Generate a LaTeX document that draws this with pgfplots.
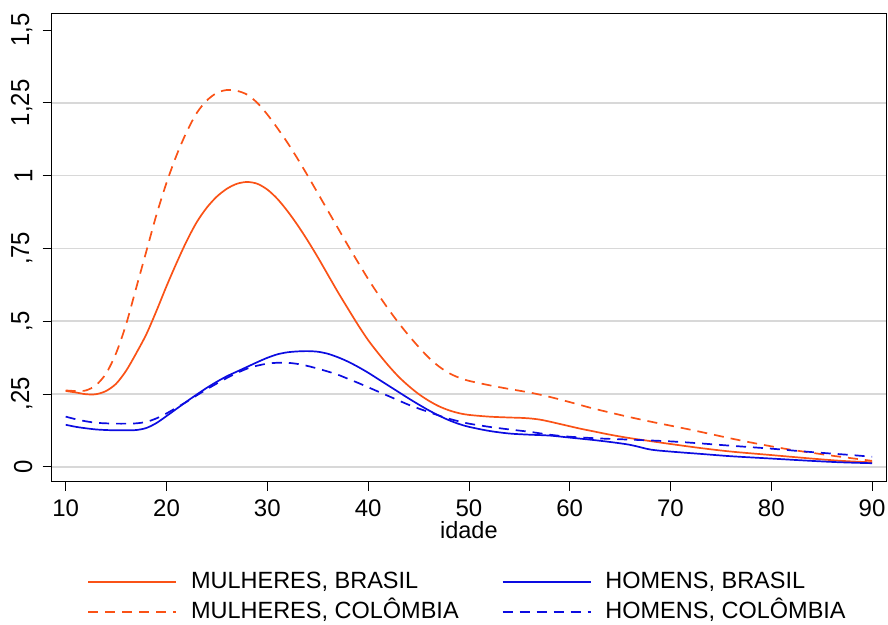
\documentclass[border=0pt]{standalone}
\usepackage{fontspec}
\setmainfont{Liberation Sans}
\newfontfamily\ylabfont[FakeStretch=0.92]{Liberation Sans}
\usepackage{pgfplots}
\pgfplotsset{compat=1.18}
\definecolor{colF}{RGB}{250,82,22}
\definecolor{colM}{RGB}{12,12,225}
\definecolor{gridc}{RGB}{216,216,216}
\newcommand{\onefive}{1,5}

\pgfplotstableread{
x y
10 0.260
11 0.255
12 0.249
13 0.249
14 0.260
15 0.285
16 0.330
17 0.390
18 0.455
19 0.535
20 0.620
21 0.700
22 0.775
23 0.840
24 0.890
25 0.928
26 0.955
27 0.972
28 0.978
29 0.972
30 0.952
31 0.920
32 0.878
33 0.830
34 0.777
35 0.720
36 0.660
37 0.600
38 0.543
39 0.487
40 0.435
41 0.390
42 0.348
43 0.310
44 0.278
45 0.250
46 0.227
47 0.208
48 0.194
49 0.184
50 0.178
52 0.172
54 0.169
55 0.168
56 0.166
57 0.162
58 0.155
59 0.147
60 0.139
61 0.131
62 0.124
64 0.110
66 0.098
68 0.088
70 0.078
73 0.064
76 0.052
80 0.040
84 0.028
87 0.020
90 0.015
}\mulbr

\pgfplotstableread{
x y
10 0.262
11 0.260
12 0.262
13 0.280
14 0.320
15 0.390
16 0.490
17 0.615
18 0.740
19 0.865
20 0.975
21 1.070
22 1.150
23 1.215
24 1.258
25 1.284
26 1.294
27 1.291
28 1.278
29 1.250
30 1.210
31 1.163
32 1.113
33 1.058
34 1.000
35 0.940
36 0.880
37 0.820
38 0.760
39 0.702
40 0.645
41 0.592
42 0.542
43 0.495
44 0.452
45 0.412
46 0.375
47 0.345
48 0.322
49 0.306
50 0.295
52 0.280
54 0.267
56 0.255
58 0.240
60 0.222
62 0.203
64 0.186
66 0.170
68 0.155
70 0.141
72 0.127
74 0.112
76 0.097
78 0.083
80 0.070
82 0.058
84 0.048
86 0.038
88 0.029
90 0.020
}\mulco

\pgfplotstableread{
x y
10 0.144
11 0.137
12 0.132
13 0.128
14 0.126
15 0.125
16 0.125
17 0.126
18 0.133
19 0.150
20 0.174
21 0.199
22 0.224
23 0.248
24 0.271
25 0.292
26 0.311
27 0.327
28 0.343
29 0.359
30 0.374
31 0.386
32 0.393
33 0.396
34 0.397
35 0.395
36 0.388
37 0.376
38 0.361
39 0.343
40 0.323
41 0.301
42 0.279
43 0.257
44 0.235
45 0.214
46 0.194
47 0.176
48 0.160
49 0.147
50 0.137
52 0.123
54 0.114
56 0.110
58 0.107
60 0.100
62 0.093
64 0.085
66 0.075
68 0.059
70 0.052
73 0.044
76 0.036
80 0.028
84 0.020
87 0.015
90 0.012
}\hombr

\pgfplotstableread{
x y
10 0.172
11 0.163
12 0.156
13 0.151
14 0.149
15 0.148
16 0.148
17 0.149
18 0.154
19 0.166
20 0.183
21 0.203
22 0.223
23 0.245
24 0.266
25 0.286
26 0.305
27 0.322
28 0.337
29 0.347
30 0.354
31 0.357
32 0.357
33 0.353
34 0.346
35 0.337
36 0.327
37 0.316
38 0.302
39 0.288
40 0.273
41 0.258
42 0.243
43 0.228
44 0.213
45 0.200
46 0.188
47 0.176
48 0.165
49 0.156
50 0.148
52 0.137
54 0.128
56 0.120
58 0.110
60 0.103
63 0.097
66 0.093
70 0.087
73 0.080
76 0.072
80 0.062
83 0.053
86 0.045
88 0.040
90 0.034
}\homco

\begin{document}
\begin{tikzpicture}
\path[use as bounding box] (-51.7bp,-143.3bp) rectangle (836.3bp,481.7bp);
\begin{axis}[
  at={(0,0)}, anchor=south west,
  scale only axis, width=834.3bp, height=467.7bp,
  xmin=8.61, xmax=91.38, ymin=-0.0515, ymax=1.555,
  tick pos=left, tick align=outside,
  major tick length=9bp,
  tick style={black, line width=0.8bp},
  axis line style={black, line width=1bp},
  xtick={10,20,30,40,50,60,70,80,90},
  xticklabels={10,20,30,40,50,60,70,80,90},
  ytick={0,0.25,0.5,0.75,1,1.25},
  yticklabels={0,{,25},{,5},{,75},1,{1,25}},
  extra y ticks={1.5}, extra y tick labels={\onefive},
  extra y tick style={grid=none},
  ymajorgrids,
  grid style={gridc, line width=1.6bp},
  major grid style={gridc, line width=1.6bp},
  xticklabel style={font=\fontsize{24bp}{28bp}\selectfont, inner sep=0pt, anchor=north, yshift=-9bp},
  yticklabel style={font=\fontsize{26bp}{30bp}\ylabfont, xshift=-10bp, rotate=90, inner sep=0pt, anchor=south},
  xlabel={idade},
  xlabel style={font=\fontsize{23.5bp}{28bp}\selectfont, inner sep=0pt, at={(axis description cs:0.5,0)}, anchor=base, yshift=-57bp},
  legend columns=2,
  legend cell align=left,
  legend image code/.code={\draw[#1] (0bp,0bp) -- (88bp,0bp);},
  legend style={
    at={(axis description cs:0.0427,-0.191)}, anchor=north west,
    draw=none, fill=none, inner sep=0pt, outer sep=0pt,
    font=\fontsize{23.5bp}{28bp}\selectfont,
    nodes={inner sep=0pt, text height=17bp, text depth=5bp},
    row sep=8bp,
    /tikz/every odd column/.append style={column sep=14bp},
    /tikz/every even column/.append style={column sep=43bp},
  },
]
\addplot[colF, line width=1.7bp, smooth] table[x=x,y=y] {\mulbr};
\addlegendentry{MULHERES, BRASIL}
\addplot[colM, line width=1.7bp, smooth] table[x=x,y=y] {\hombr};
\addlegendentry{HOMENS, BRASIL}
\addplot[colF, line width=1.7bp, smooth, dash pattern=on 10bp off 7bp] table[x=x,y=y] {\mulco};
\addlegendentry{MULHERES, COLÔMBIA}
\addplot[colM, line width=1.7bp, smooth, dash pattern=on 10bp off 7bp] table[x=x,y=y] {\homco};
\addlegendentry{HOMENS, COLÔMBIA}
\end{axis}
\end{tikzpicture}
\end{document}
